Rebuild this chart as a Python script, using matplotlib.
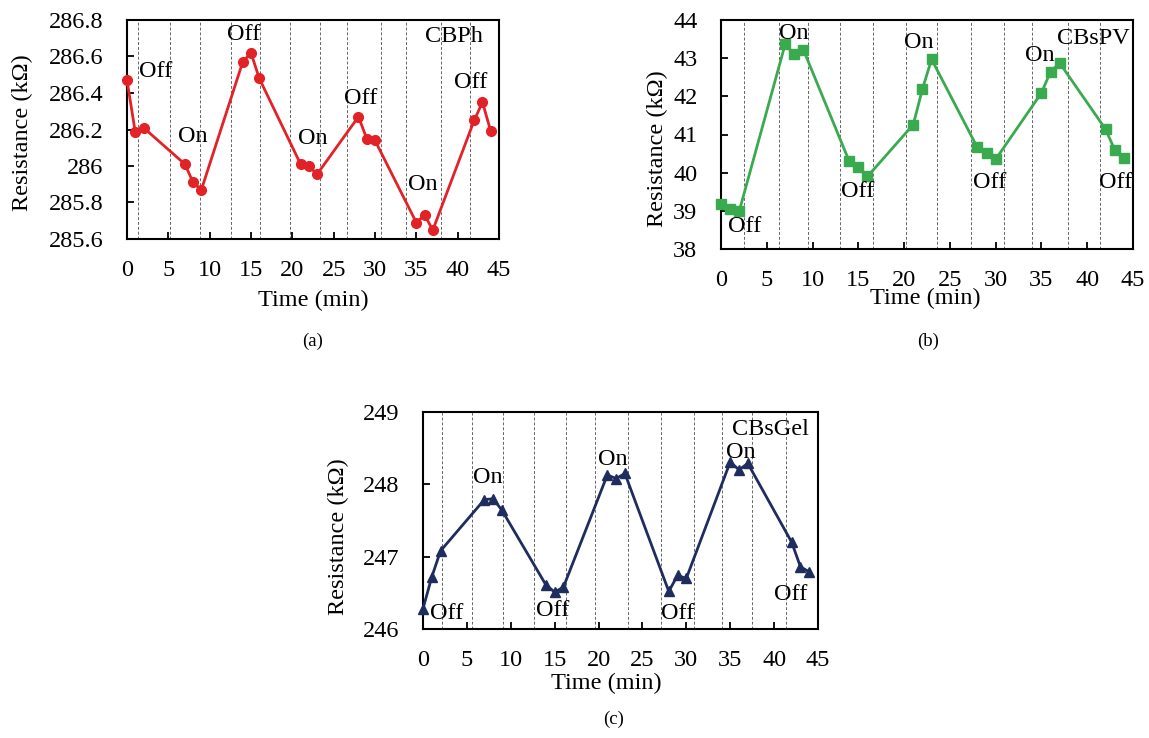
import matplotlib
matplotlib.use("Agg")
import matplotlib.pyplot as plt
import numpy as np

plt.rcParams['font.family'] = ['Liberation Serif', 'DejaVu Serif']
plt.rcParams['mathtext.fontset'] = 'stix'

# ---------------- data ----------------
time_min = [0, 1, 2, 7, 8, 9, 14, 15, 16, 21, 22, 23, 28, 29, 30, 35, 36, 37, 42, 43, 44]

cbph = [286.47, 286.185, 286.21, 286.01, 285.91, 285.87, 286.57, 286.62, 286.48,
        286.01, 286.00, 285.955, 286.27, 286.15, 286.14, 285.69, 285.73, 285.65,
        286.25, 286.35, 286.19]
cbspv = [39.19, 39.05, 39.00, 43.36, 43.10, 43.22, 40.30, 40.15, 39.90,
         41.26, 42.19, 42.97, 40.66, 40.52, 40.35, 42.09, 42.65, 42.87,
         41.14, 40.60, 40.39]
cbsgel = [246.28, 246.72, 247.08, 247.79, 247.80, 247.64, 246.61, 246.51, 246.58,
          248.13, 248.08, 248.15, 246.52, 246.74, 246.70, 248.31, 248.20, 248.29,
          247.20, 246.86, 246.79]

switch_a = [1.3, 5.2, 8.8, 12.6, 16.1, 19.7, 23.4, 26.6, 30.7, 33.8, 38.0, 41.5]
switch_b = [2.5, 6.3, 9.5, 13.0, 16.6, 20.2, 23.6, 27.3, 30.9, 34.0, 37.9, 41.4]
switch_c = [2.2, 5.6, 9.1, 12.6, 16.3, 19.6, 23.4, 27.1, 30.9, 34.1, 37.5, 41.3]

x_ticks = [0, 5, 10, 15, 20, 25, 30, 35, 40, 45]
yticks_a = [285.6, 285.8, 286.0, 286.2, 286.4, 286.6, 286.8]
yticks_b = [38, 39, 40, 41, 42, 43, 44]
yticks_c = [246, 247, 248, 249]

labels_a = ["Off", "On", "Off", "On", "Off", "On", "Off"]
labels_b = ["Off", "On", "Off", "On", "Off", "On", "Off"]
labels_c = ["Off", "On", "Off", "On", "Off", "On", "Off"]

# ---------------- figure ----------------
W, H = 1149, 738
fig = plt.figure(figsize=(W / 100, H / 100), dpi=100)
FS = 17.5


def px_axes(l, t, r, b):
    return fig.add_axes([l / W, (H - b) / H, (r - l) / W, (b - t) / H])


def style(ax, yticks, switches, ylab_xy, xlab_xy):
    ax.set_xlim(0, 45)
    ax.set_ylim(yticks[0], yticks[-1])
    ax.set_xticks(x_ticks)
    ax.set_yticks(yticks)
    ax.set_yticklabels([f"{v:g}" for v in yticks])
    ax.tick_params(direction='in', length=5, width=1.3, labelsize=FS,
                   top=False, right=False)
    ax.tick_params(axis='x', pad=15)
    ax.tick_params(axis='y', pad=17)
    for s in ax.spines.values():
        s.set_linewidth(1.5)
    for xv in switches:
        ax.axvline(xv, color='#666666', lw=0.7, ls=(0, (3, 2)), zorder=1)
    ax.set_ylabel("Resistance (k\u03a9)", fontsize=FS, va='center')
    ax.yaxis.set_label_coords(*ylab_xy)
    ax.set_xlabel("Time (min)", fontsize=FS, va='center')
    ax.xaxis.set_label_coords(*xlab_xy)


# (a)
axa = px_axes(127, 20, 499, 239)
axa.plot(time_min, cbph, color='#e32227', lw=2, marker='o', ms=7, zorder=3,
         clip_on=False)
style(axa, yticks_a, switch_a, (-0.282, 0.484), (0.5, -0.279))
pos_a = [(1.4, 286.52), (6.2, 286.16), (12.1, 286.72), (20.7, 286.15),
         (26.2, 286.37), (34.0, 285.90), (39.5, 286.46)]
for t, (x, y) in zip(labels_a, pos_a):
    axa.text(x, y, t, fontsize=FS, ha='left', va='center')
axa.text(36.1, 286.71, "CBPh", fontsize=FS, ha='left', va='center')

# (b)
axb = px_axes(721, 20, 1133, 249)
axb.plot(time_min, cbspv, color='#3aaa4f', lw=2, marker='s', ms=7, zorder=3,
         clip_on=False)
style(axb, yticks_b, switch_b, (-0.155, 0.44), (0.495, -0.214))
pos_b = [(0.8, 38.6), (6.3, 43.65), (13.1, 39.5), (20.0, 43.4),
         (27.5, 39.75), (33.2, 43.08), (41.3, 39.75)]
for t, (x, y) in zip(labels_b, pos_b):
    axb.text(x, y, t, fontsize=FS, ha='left', va='center')
axb.text(36.7, 43.52, "CBsPV", fontsize=FS, ha='left', va='center')

# (c)
axc = px_axes(423, 412, 818, 629)
axc.plot(time_min, cbsgel, color='#1f2d5e', lw=2, marker='^', ms=7, zorder=3,
         clip_on=False)
style(axc, yticks_c, switch_c, (-0.215, 0.424), (0.465, -0.249))
pos_c = [(0.8, 246.22), (5.7, 248.09), (12.9, 246.26), (19.9, 248.35),
         (27.1, 246.21), (34.5, 248.44), (40.0, 246.48)]
for t, (x, y) in zip(labels_c, pos_c):
    axc.text(x, y, t, fontsize=FS, ha='left', va='center')
axc.text(35.2, 248.76, "CBsGel", fontsize=FS, ha='left', va='center')

# panel captions
fig.text(313 / W, 1 - 341 / H, "(a)", fontsize=13.5, ha='center', va='center')
fig.text(928 / W, 1 - 341 / H, "(b)", fontsize=13.5, ha='center', va='center')
fig.text(614 / W, 1 - 719 / H, "(c)", fontsize=13.5, ha='center', va='center')

fig.savefig("out.png", dpi=100, facecolor='white')
